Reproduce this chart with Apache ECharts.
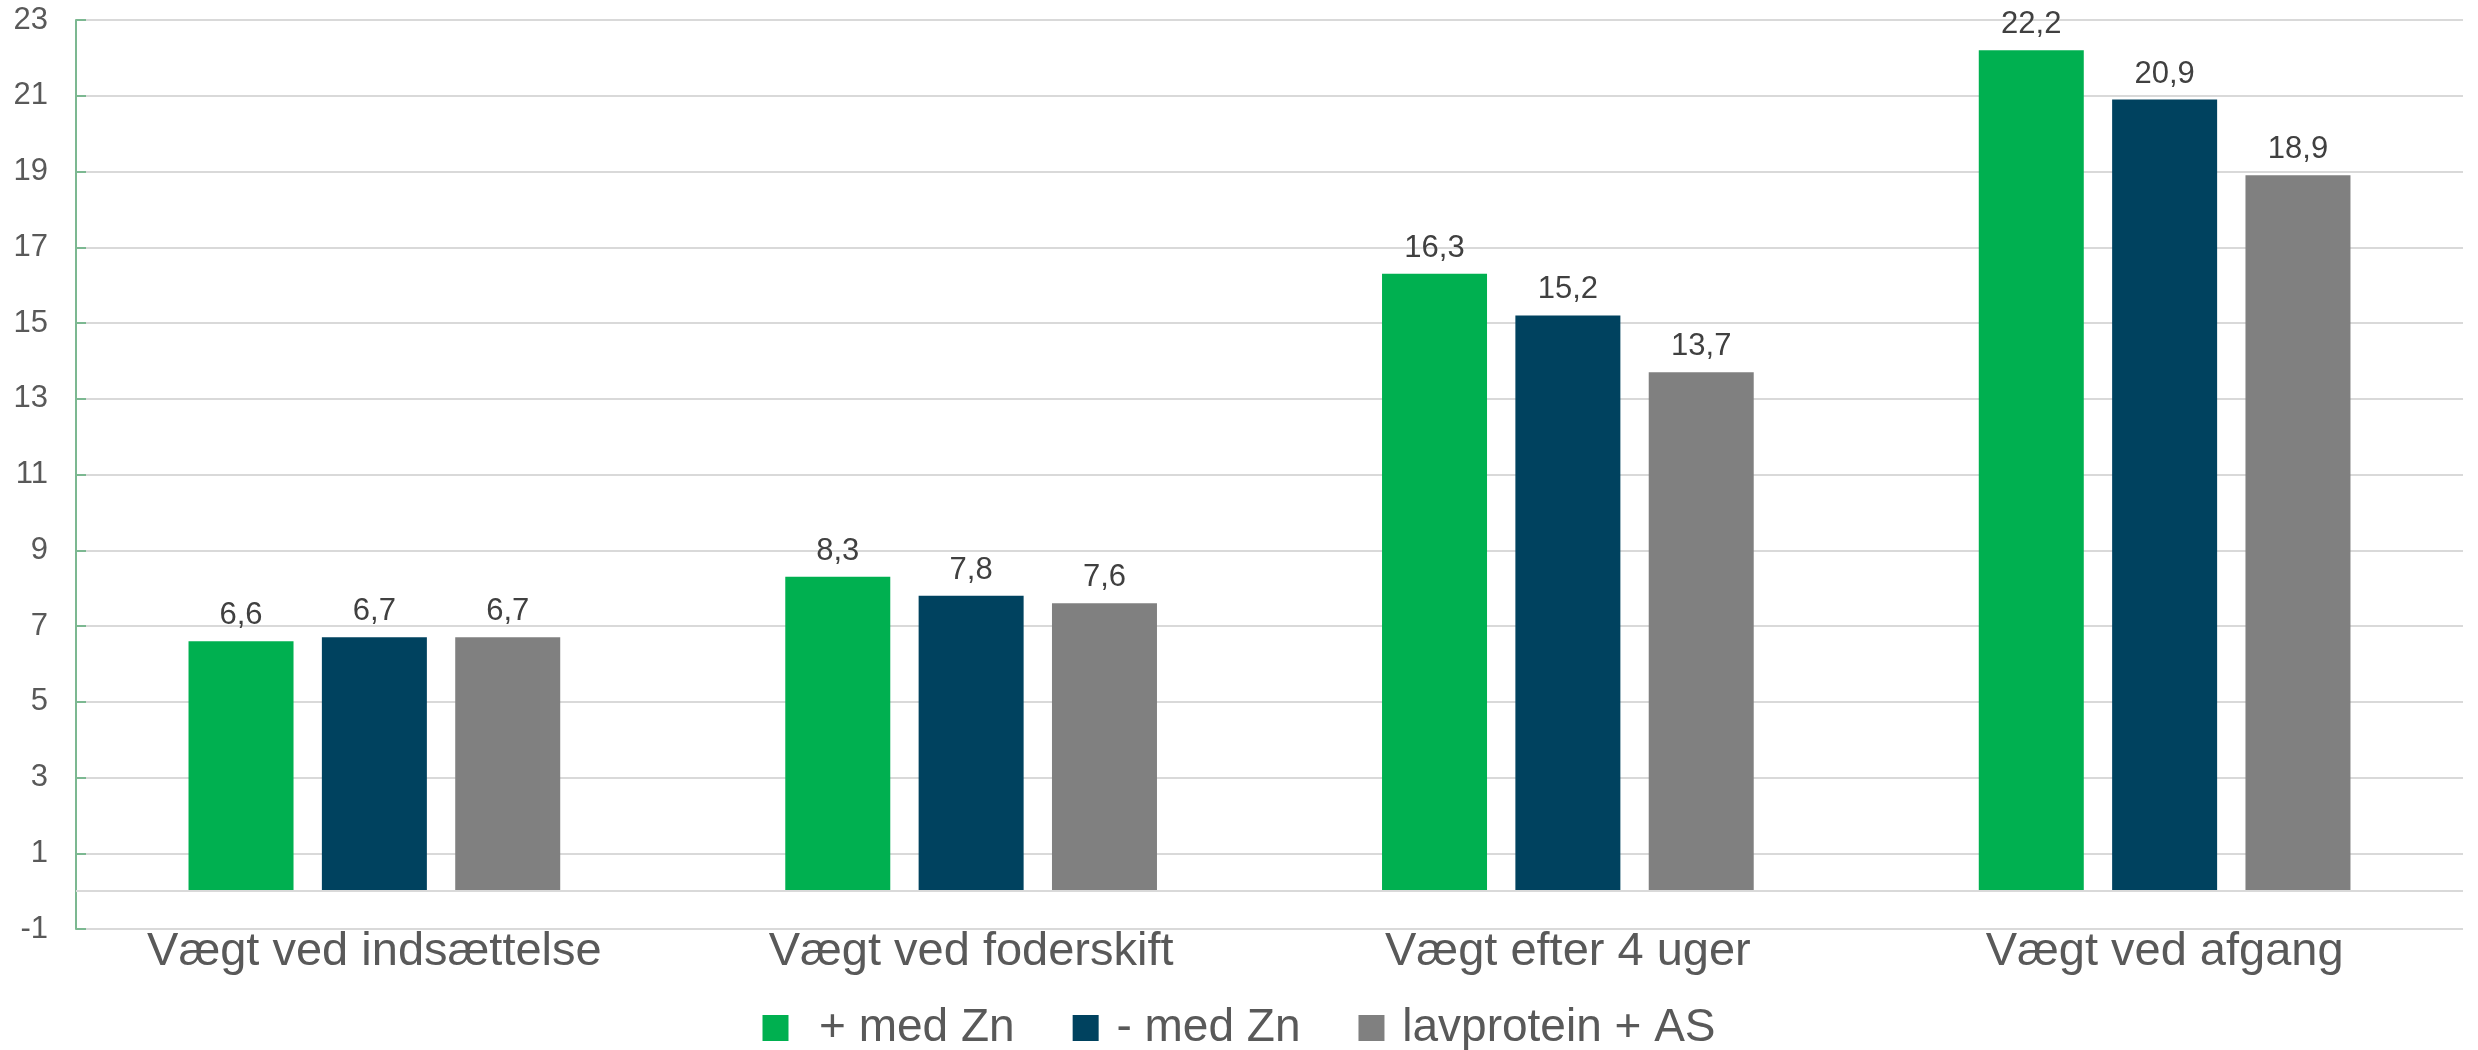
<!DOCTYPE html>
<html>
<head>
<meta charset="utf-8">
<script src="https://cdn.jsdelivr.net/npm/echarts@6/dist/echarts.min.js"></script>
<style>
  html, body { margin: 0; padding: 0; background: #fff; }
  #chart { width: 2478px; height: 1050px; }
</style>
</head>
<body>
<div id="chart"></div>
<script>
// data
let categories = ['Vægt ved indsættelse', 'Vægt ved foderskift', 'Vægt efter 4 uger', 'Vægt ved afgang'];
let seriesNames = ['+ med Zn', '- med Zn', 'lavprotein + AS'];
let medZnPlus = [6.6, 8.3, 16.3, 22.2];
let medZnMinus = [6.7, 7.8, 15.2, 20.9];
let lavprotein = [6.7, 7.6, 13.7, 18.9];
let colors = ['#00B050', '#00425F', '#808080'];

let font = 'Liberation Sans, Arial, sans-serif';

function makeSeries(name, data, color, withZero) {
    let s = {
        name: name,
        type: 'bar',
        data: data,
        barWidth: 105,
        barGap: '27%',
        itemStyle: { color: color },
        label: {
            show: true,
            position: 'top',
            distance: 10,
            color: '#404040',
            fontSize: 31,
            fontFamily: font,
            formatter: (p) => String(p.value).replace('.', ',')
        }
    };
    if (withZero) {
        // light line at 0 where the bars start
        s.markLine = {
            silent: true,
            symbol: 'none',
            label: { show: false },
            lineStyle: { color: '#d9d9d9', type: 'solid', width: 2 },
            data: [{ yAxis: 0 }]
        };
    }
    return s;
}

var myChart = echarts.init(document.getElementById('chart'));
let option = {
    animation: false,
    textStyle: { fontFamily: font },
    grid: { left: 76, right: 15, top: 20, bottom: 121 },
    legend: {
        data: seriesNames,
        top: 1000,
        left: 'center',
        itemWidth: 26,
        itemHeight: 26,
        itemGap: 58,
        icon: 'rect',
        formatter: (name) => name == seriesNames[0] ? '  ' + name : ' ' + name,
        textStyle: { fontSize: 46, color: '#595959', fontFamily: font }
    },
    xAxis: {
        type: 'category',
        data: categories,
        axisLine: { show: false, onZero: false },
        axisTick: { show: false },
        axisLabel: { color: '#595959', fontSize: 47, margin: 0, fontFamily: font }
    },
    yAxis: {
        type: 'value',
        min: -1,
        max: 23,
        interval: 2,
        axisLine: { show: true, lineStyle: { color: '#7cb891', width: 2 } },
        axisTick: { show: true, inside: true, length: 10, lineStyle: { color: '#7cb891', width: 2 } },
        axisLabel: { color: '#595959', fontSize: 31, margin: 28, fontFamily: font },
        splitLine: { lineStyle: { color: '#d9d9d9', width: 2 } }
    },
    series: [
        makeSeries(seriesNames[0], medZnPlus, colors[0], true),
        makeSeries(seriesNames[1], medZnMinus, colors[1], false),
        makeSeries(seriesNames[2], lavprotein, colors[2], false)
    ]
};
myChart.setOption(option);
</script>
</body>
</html>
